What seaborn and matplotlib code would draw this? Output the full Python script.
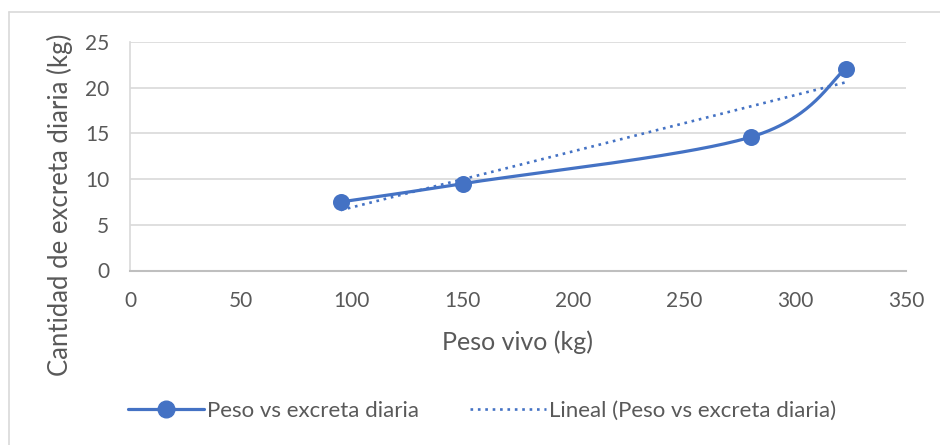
import numpy as np
import pandas as pd
import matplotlib
matplotlib.use("Agg")
import matplotlib.pyplot as plt
import seaborn as sns
from matplotlib.lines import Line2D

peso = [95, 150, 280, 323]
excreta = [7.5, 9.5, 14.6, 22.1]
# linear trendline as drawn in the reference (ends)
tendencia_x = [95, 323]
tendencia_y = [6.6, 20.6]
x_ticks = [0, 50, 100, 150, 200, 250, 300, 350]
y_ticks = [0, 5, 10, 15, 20, 25]
serie = "Peso vs excreta diaria"
tendencia = "Lineal (Peso vs excreta diaria)"

sns.set_theme(style="white")
plt.rcParams['font.family'] = ['Lato', 'DejaVu Sans']

BLUE = "#4472C4"
TXT = "#595959"
DOT = (0, (1, 1.8))

fig = plt.figure(figsize=(9.4, 4.45), dpi=100)
W, H = 940, 445
ax = fig.add_axes([130 / W, 1 - 270.5 / H, (906 - 130) / W, (270.5 - 42) / H])

df = pd.DataFrame({"peso": peso, "excreta": excreta})

# smooth curve (Excel-like Catmull-Rom bezier) through the data points
P = np.column_stack([df["peso"].values, df["excreta"].values]).astype(float)
n = len(P)
curve = []
t = np.linspace(0, 1, 60)
for i in range(n - 1):
    p0 = P[i]
    p3 = P[i + 1]
    prev = P[i - 1] if i > 0 else P[i]
    nxt = P[i + 2] if i + 2 < n else P[i + 1]
    c1 = p0 + (p3 - prev) / 6.0
    c2 = p3 - (nxt - p0) / 6.0
    seg = ((1 - t) ** 3)[:, None] * p0 + (3 * (1 - t) ** 2 * t)[:, None] * c1 + \
          (3 * (1 - t) * t ** 2)[:, None] * c2 + (t ** 3)[:, None] * p3
    curve.append(seg if i == 0 else seg[1:])
curve = np.vstack(curve)
cdf = pd.DataFrame({"x": curve[:, 0], "y": curve[:, 1]})
sns.lineplot(data=cdf, x="x", y="y", ax=ax, color=BLUE, lw=2.3, sort=False,
             estimator=None, zorder=3)
sns.scatterplot(data=df, x="peso", y="excreta", ax=ax, color=BLUE, s=150,
                edgecolor=BLUE, linewidth=0, zorder=4)

tdf = pd.DataFrame({"x": tendencia_x, "y": tendencia_y})
sns.lineplot(data=tdf, x="x", y="y", ax=ax, color=BLUE, lw=1.9,
             linestyle=DOT, estimator=None, zorder=2)

ax.set_xlim(0, 350)
ax.set_ylim(0, 25)
ax.set_xticks(x_ticks)
ax.set_yticks(y_ticks)
ax.tick_params(axis="both", labelsize=15, colors=TXT, length=0, pad=15)
ax.yaxis.grid(True, color="#d9d9d9", lw=1.2)
ax.xaxis.grid(False)
for s in ["top", "right"]:
    ax.spines[s].set_visible(False)
ax.spines["bottom"].set_color("#bfbfbf")
ax.spines["bottom"].set_linewidth(1.5)
ax.spines["left"].set_color("#d9d9d9")
ax.spines["left"].set_linewidth(1.2)
ax.set_xlabel("")
ax.set_ylabel("")

fig.text(518 / W, 1 - 342 / H, "Peso vivo (kg)", ha="center", va="center",
         fontsize=18, color=TXT)
fig.text(60 / W, 1 - 205 / H, "Cantidad de excreta diaria (kg)", ha="center",
         va="center", rotation=90, fontsize=18.5, color=TXT)

handles = [
    Line2D([], [], color=BLUE, lw=2.3, marker="o", markersize=12),
    Line2D([], [], color=BLUE, lw=1.9, linestyle=DOT),
]
fig.legend(handles, [serie, tendencia], loc="center", ncol=2,
           bbox_to_anchor=(482 / W, 1 - 411 / H), frameon=False,
           fontsize=16, labelcolor=TXT, handlelength=3.4, handletextpad=0.15,
           columnspacing=2.3)

# chart area border
fig.add_artist(Line2D([9 / W, 9 / W], [0, 1 - 12 / H], transform=fig.transFigure,
                      color="#d9d9d9", lw=1.2))
fig.add_artist(Line2D([9 / W, 1], [1 - 12 / H, 1 - 12 / H], transform=fig.transFigure,
                      color="#d9d9d9", lw=1.2))

fig.savefig("out.png", dpi=100, facecolor="white")
